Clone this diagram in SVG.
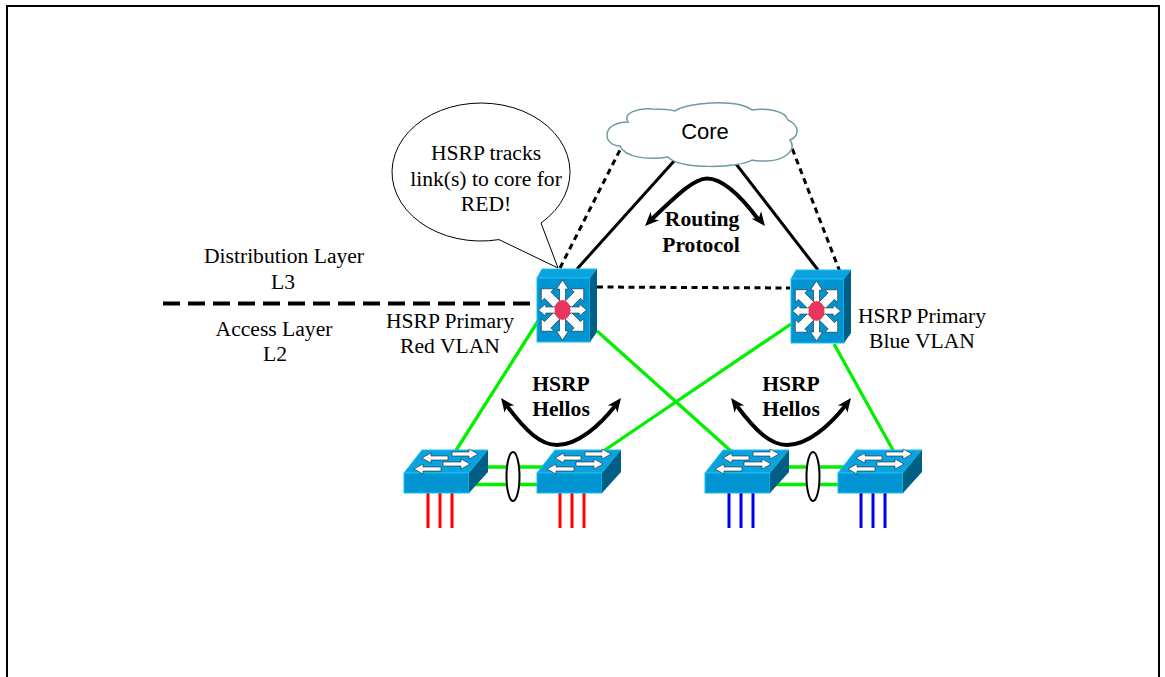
<svg xmlns="http://www.w3.org/2000/svg" width="1165" height="677" viewBox="0 0 1165 677">
<defs>
<style>
.s{font-family:"Liberation Serif","Times New Roman",serif;font-size:21.6px;fill:#000;text-anchor:middle}
.b{font-weight:bold}
.k{fill:none;stroke:#000;stroke-width:3}
.d{fill:none;stroke:#000;stroke-width:3;stroke-dasharray:6 4.500}
.g{fill:none;stroke:#00f000;stroke-width:3.300}
.r{stroke:#ff0000;stroke-width:3}
.bl{stroke:#0000ee;stroke-width:3}
.cv{fill:none;stroke:#000;stroke-width:4}
.ah{fill:#000}
.arr{fill:#fff;stroke:#222;stroke-width:.6}
</style>
<g id="sw">
<path d="M0 23L18 0H84L65 23Z" fill="#0aa3e0" stroke="#19c0f0"/>
<rect x="0" y="23" width="65" height="20" fill="#0095d2" stroke="#19c0f0"/>
<path d="M65 23L84 0V22L65 43Z" fill="#005f85"/>
<path class="arr" d="M10 19L19 14V17H37V21H19V24Z"/>
<path class="arr" d="M18 8L27 3V6H44V10H27V13Z"/>
<path class="arr" d="M74 4L65 -1V2H48V6H65V9Z"/>
<path class="arr" d="M66 14L57 9V12H39V16H57V19Z"/>
</g>
<path id="a1" class="arr" d="M0 -30L6 -21H3V-8H-3V-21H-6Z"/>
<path id="a2" class="arr" d="M0 -30L9 -21H4.500V-8H-4.500V-21H-9Z"/>
<g id="ms">
<path d="M1 9L6 0H61L54 9Z" fill="#0aa3e0" stroke="#19c0f0"/>
<rect x="1" y="9" width="53" height="64" fill="#0095d2" stroke="#19c0f0"/>
<path d="M54 9L61 0V63L54 73Z" fill="#005f85"/>
<g transform="translate(26.500 41)">
<use href="#a2" transform="rotate(45)"/>
<use href="#a2" transform="rotate(135)"/>
<use href="#a2" transform="rotate(225)"/>
<use href="#a2" transform="rotate(315)"/>
<use href="#a1"/>
<use href="#a1" transform="rotate(90) scale(1 .8)"/>
<use href="#a1" transform="rotate(180)"/>
<use href="#a1" transform="rotate(270) scale(1 .8)"/>
</g>
<ellipse cx="26.500" cy="41" rx="8" ry="10" fill="#e8365f"/>
</g>
<path id="ah" class="ah" d="M0 0L14 -6L10 0L14 6Z"/>
</defs>
<rect x="7" y="6" width="1152" height="690" fill="#fff" stroke="#000" stroke-width="2"/>
<g id="connectors">
<path d="M163 303.500H532" fill="none" stroke="#000" stroke-width="4" stroke-dasharray="17 8"/>
<path class="d" d="M560 268L622 146"/>
<path class="d" d="M840 272L792 148"/>
<path class="d" d="M597 287L790 288"/>
<path class="k" d="M577 269L675 160"/>
<path class="k" d="M818 270L733 160"/>
<path class="g" d="M540 318L455 452"/>
<path class="g" d="M597 331L732 452"/>
<path class="g" d="M791 324L602 452"/>
<path class="g" d="M834 344L894 452"/>
<path class="g" d="M485 467H545"/>
<path class="g" d="M475 484.500H540"/>
<path class="g" d="M786 467H846"/>
<path class="g" d="M776 484.500H840"/>
<g id="drops">
<path class="r" d="M428 493V528M440 493V528M452 493V528M560 493V528M572 493V528M584 493V528"/>
<path class="bl" d="M729 493V528M741 493V528M753 493V528M861 493V528M873 493V528M885 493V528"/>
</g>
<path class="cv" d="M652 219C680 192 695 178.500 707 178.500C722 178.500 740 195 758 219"/>
<use href="#ah" transform="translate(645 226) rotate(-45)"/>
<use href="#ah" transform="translate(765 226) rotate(232)"/>
<path class="cv" d="M507 406C525 430 540 445 557 445C578 445 600 425 615 406"/>
<use href="#ah" transform="translate(501 398) rotate(53)"/>
<use href="#ah" transform="translate(621 398) rotate(127)"/>
<path class="cv" d="M737 406C755 430 770 445 787 445C808 445 830 425 845 406"/>
<use href="#ah" transform="translate(731 398) rotate(53)"/>
<use href="#ah" transform="translate(851 398) rotate(127)"/>
</g>
<g id="core">
<path d="M607 135C607 126 618 122 628 122C622 112 640 108 652 109C662 109 672 110 675 111C685 103 735 98 752 110C765 108 785 110 788 120C793 122 798 127 797 132C797 136 793 139 790 140C797 150 785 161 765 161C760 161 755 161 752 160C740 168 680 170 668 157C650 160 625 158 620 146C612 146 607 141 607 135Z" fill="#fff" stroke="#6f9aa5" stroke-width="1.500"/>
<text x="705" y="139" font-family="Liberation Sans,Arial,sans-serif" font-size="22" text-anchor="middle">Core</text>
</g>
<g id="callout">
<path d="M541 223A89 69 0 1 0 499 239.600L558 268Z" fill="#fff" stroke="#000" stroke-width="1"/>
<text class="s" x="486" y="160">HSRP tracks</text>
<text class="s" x="486" y="186">link(s) to core for</text>
<text class="s" x="486" y="211">RED!</text>
</g>
<use id="dist-left" href="#ms" x="536" y="269"/>
<use id="dist-right" href="#ms" x="790" y="270"/>
<use id="acc1" href="#sw" x="404" y="450"/>
<use id="acc2" href="#sw" x="537" y="450"/>
<use id="acc3" href="#sw" x="705" y="450"/>
<use id="acc4" href="#sw" x="838" y="450"/>
<g id="bundles" fill="#fff" stroke="#000" stroke-width="2">
<ellipse cx="513" cy="476.500" rx="6.500" ry="24.500"/>
<ellipse cx="813" cy="476.500" rx="6.500" ry="24.500"/>
</g>
<g id="labels">
<text class="s" x="284" y="263">Distribution Layer</text>
<text class="s" x="283" y="289">L3</text>
<text class="s" x="274" y="336">Access Layer</text>
<text class="s" x="275" y="361">L2</text>
<text class="s" x="450" y="328">HSRP Primary</text>
<text class="s" x="450" y="353">Red VLAN</text>
<text class="s" x="922" y="323">HSRP Primary</text>
<text class="s" x="922" y="348">Blue VLAN</text>
<text class="s b" x="702" y="226">Routing</text>
<text class="s b" x="701" y="252">Protocol</text>
<text class="s b" x="561" y="391">HSRP</text>
<text class="s b" x="561" y="416">Hellos</text>
<text class="s b" x="791" y="391">HSRP</text>
<text class="s b" x="791" y="416">Hellos</text>
</g>
</svg>
